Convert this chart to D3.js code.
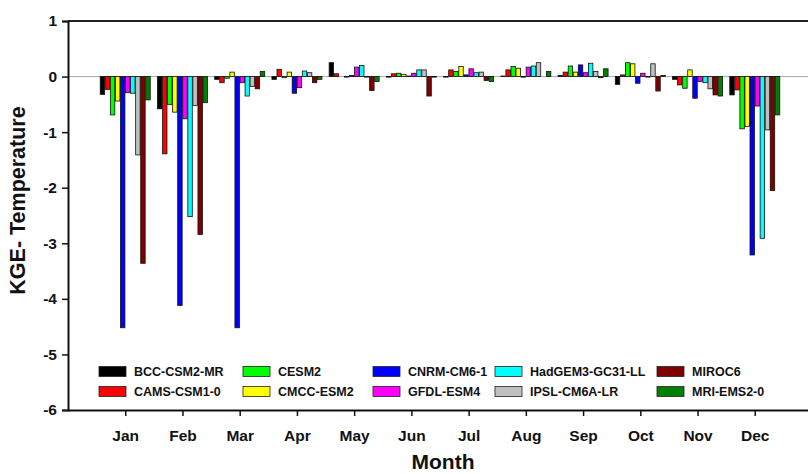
<!DOCTYPE html>
<html>
<head>
<meta charset="utf-8">
<script src="https://cdn.jsdelivr.net/npm/d3@7"></script>
<style>
  html, body { margin: 0; padding: 0; background: #fff; }
  svg { display: block; font-family: "Liberation Sans", Arial, sans-serif; font-weight: bold; }
</style>
</head>
<body>
<svg id="chart" width="808" height="474"></svg>
<script>
// Monthly KGE scores for temperature, one series per CMIP6 model
const months = ["Jan", "Feb", "Mar", "Apr", "May", "Jun", "Jul", "Aug", "Sep", "Oct", "Nov", "Dec"];
const models = ["BCC-CSM2-MR", "CAMS-CSM1-0", "CESM2", "CMCC-ESM2", "CNRM-CM6-1",
                "GFDL-ESM4", "HadGEM3-GC31-LL", "IPSL-CM6A-LR", "MIROC6", "MRI-EMS2-0"];
const colors = ["#000000", "#ff0000", "#00ff00", "#ffff00", "#0000ff",
                "#ff00ff", "#00ffff", "#c0c0c0", "#800000", "#008000"];

const bccCsm2Mr  = [-0.32, -0.58, -0.05, -0.05,  0.25, -0.01, -0.01,  0.01,  0.02, -0.14, -0.05, -0.33];
const camsCsm1   = [-0.23, -1.39, -0.11,  0.13,  0.05,  0.05,  0.12,  0.12,  0.08,  0.03, -0.15, -0.24];
const cesm2      = [-0.69, -0.50, -0.03, -0.02,  0.00,  0.06,  0.09,  0.18,  0.19,  0.25, -0.21, -0.94];
const cmccEsm2   = [-0.44, -0.64,  0.08,  0.08, -0.01,  0.04,  0.18,  0.15,  0.08,  0.23,  0.12, -0.90];
const cnrmCm6    = [-4.52, -4.12, -4.52, -0.30,  0.02,  0.01,  0.03, -0.01,  0.21, -0.12, -0.39, -3.21];
const gfdlEsm4   = [-0.29, -0.76, -0.11, -0.20,  0.17,  0.06,  0.14,  0.17,  0.07,  0.06, -0.09, -0.53];
const hadGem3    = [-0.30, -2.52, -0.35,  0.10,  0.20,  0.12,  0.07,  0.19,  0.24, -0.01, -0.11, -2.91];
const ipslCm6a   = [-1.41, -0.52, -0.18,  0.07, -0.01,  0.12,  0.08,  0.25,  0.09,  0.23, -0.22, -0.96];
const miroc6     = [-3.36, -2.84, -0.22, -0.11, -0.25, -0.35, -0.07,  0.00, -0.02, -0.26, -0.33, -2.05];
const mriEms2    = [-0.42, -0.47,  0.09, -0.05, -0.09, -0.01, -0.09,  0.09,  0.14,  0.02, -0.35, -0.69];

const seriesValues = [bccCsm2Mr, camsCsm1, cesm2, cmccEsm2, cnrmCm6,
                      gfdlEsm4, hadGem3, ipslCm6a, miroc6, mriEms2];
const yTicks = [1, 0, -1, -2, -3, -4, -5, -6];

const svg = d3.select("#chart");
const plot = { left: 68, right: 812, top: 21, bottom: 410 };

// Months sit at integer positions 1..12 on a 0..13 axis
const x = d3.scaleLinear().domain([0, 13]).range([plot.left, plot.right]);
const y = d3.scaleLinear().domain([-6, 1]).range([plot.bottom, plot.top]);
const inner = d3.scaleBand().domain(models).range([-25, 25]).paddingInner(0.12);

// frame top line
svg.append("line")
  .attr("x1", plot.left).attr("x2", plot.right)
  .attr("y1", plot.top).attr("y2", plot.top)
  .attr("stroke", "#222").attr("stroke-width", 2);

// zero reference line
svg.append("line")
  .attr("x1", plot.left).attr("x2", plot.right)
  .attr("y1", y(0)).attr("y2", y(0))
  .attr("stroke", "#aaa").attr("stroke-width", 1);

// bars
const bars = [];
seriesValues.forEach((vals, si) => {
  vals.forEach((v, mi) => bars.push({ model: models[si], color: colors[si], month: mi + 1, value: v }));
});
svg.append("g").selectAll("rect").data(bars).join("rect")
  .attr("x", d => x(d.month) + inner(d.model))
  .attr("width", inner.bandwidth())
  .attr("y", d => Math.min(y(d.value), y(0)))
  .attr("height", d => Math.abs(y(d.value) - y(0)))
  .attr("fill", d => d.color)
  .attr("stroke", "#111")
  .attr("stroke-width", 0.8);

const tickFont = sel => sel
  .attr("font-size", 15.5).attr("font-weight", "bold")
  .attr("font-family", "Liberation Sans, Arial, sans-serif").attr("fill", "#111");

// y axis (plain hyphen for negative labels)
const yAxis = svg.append("g")
  .attr("transform", `translate(${plot.left},0)`)
  .call(d3.axisLeft(y).tickValues(yTicks).tickFormat(d => String(d)).tickSize(6).tickPadding(5));
yAxis.select(".domain").attr("stroke", "#111").attr("stroke-width", 2);
yAxis.selectAll(".tick line").attr("stroke", "#111").attr("stroke-width", 1.5);
yAxis.selectAll(".tick text").call(tickFont);

// x axis
const xAxis = svg.append("g")
  .attr("transform", `translate(0,${plot.bottom})`)
  .call(d3.axisBottom(x).tickValues(d3.range(1, 13)).tickFormat(d => months[d - 1])
    .tickSize(6).tickSizeOuter(0).tickPadding(14));
xAxis.select(".domain").attr("stroke", "#111").attr("stroke-width", 2);
xAxis.selectAll(".tick line").attr("stroke", "#111").attr("stroke-width", 1.5);
xAxis.selectAll(".tick text").call(tickFont);

// axis titles
svg.append("text")
  .attr("transform", `translate(25,${(plot.top + plot.bottom) / 2 - 15}) rotate(-90)`)
  .attr("text-anchor", "middle")
  .attr("font-size", 21.5).attr("fill", "#111")
  .text("KGE- Temperature");
svg.append("text")
  .attr("x", (plot.left + plot.right) / 2 + 3).attr("y", 469)
  .attr("text-anchor", "middle")
  .attr("font-size", 21).attr("fill", "#111")
  .text("Month");

// legend: five columns, two rows
const legendCols = [99, 243, 373, 495, 657];
const legendRows = [371.5, 391.5];
const legend = svg.append("g");
models.forEach((m, i) => {
  const col = Math.floor(i / 2), row = i % 2;
  const g = legend.append("g").attr("transform", `translate(${legendCols[col]},${legendRows[row]})`);
  g.append("rect").attr("x", 0).attr("y", -5).attr("width", 27).attr("height", 10)
    .attr("fill", colors[i]).attr("stroke", "#222").attr("stroke-width", 0.8);
  g.append("text").attr("x", 35).attr("y", 0).attr("dy", "0.36em")
    .attr("font-size", 12.5).attr("fill", "#111").text(m);
});
</script>
</body>
</html>
